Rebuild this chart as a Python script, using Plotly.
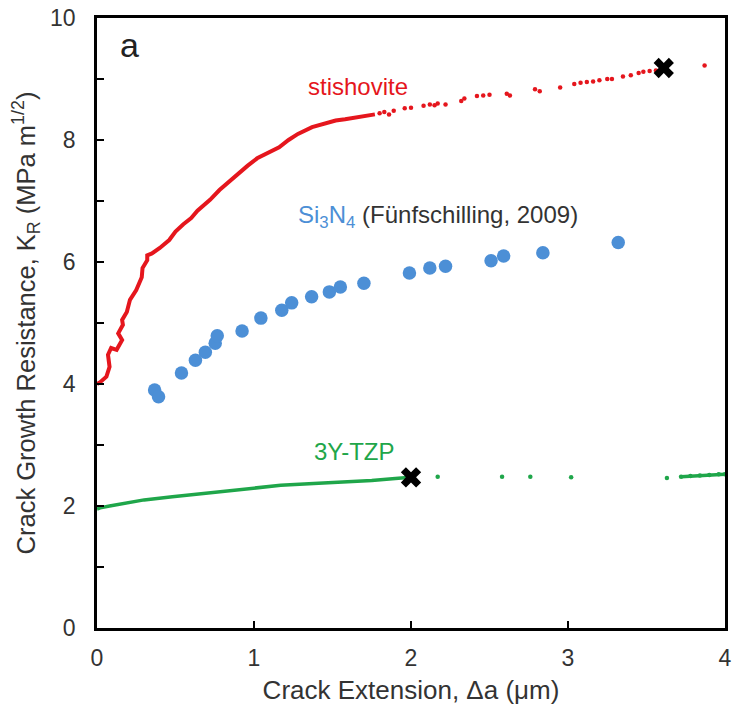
import plotly.graph_objects as go

# Stishovite R-curve: densely sampled part (drawn as a line)
sti_dense_x = [0.00, 0.02, 0.06, 0.08, 0.07, 0.09, 0.125, 0.16, 0.135, 0.165, 0.16, 0.19, 0.21,
               0.25, 0.285, 0.29, 0.32, 0.32, 0.35, 0.40, 0.46, 0.50, 0.55, 0.60, 0.64, 0.67,
               0.72, 0.78, 0.84, 0.90, 0.96, 1.02, 1.08, 1.16, 1.22, 1.28, 1.37, 1.45, 1.52, 1.58,
               1.66, 1.72, 1.77]
sti_dense_y = [4.00, 4.03, 4.12, 4.28, 4.48, 4.59, 4.56, 4.72, 4.83, 4.97, 5.05, 5.18, 5.38,
               5.54, 5.75, 5.90, 6.03, 6.11, 6.14, 6.23, 6.36, 6.50, 6.62, 6.72, 6.84, 6.90,
               7.02, 7.18, 7.32, 7.45, 7.58, 7.70, 7.77, 7.88, 8.00, 8.10, 8.21, 8.27, 8.32, 8.34,
               8.38, 8.40, 8.42]

# Stishovite R-curve: sparse points at larger crack extension
sti_sparse_x = [1.80, 1.83, 1.86, 1.89, 1.96, 2.00, 2.08, 2.12, 2.15, 2.17, 2.22, 2.32, 2.34, 2.42,
                2.46, 2.50, 2.61, 2.63, 2.79, 2.82, 2.95, 3.04, 3.08, 3.12, 3.16, 3.20, 3.25, 3.28,
                3.35, 3.40, 3.45, 3.48, 3.52, 3.56, 3.87]
sti_sparse_y = [8.44, 8.46, 8.42, 8.48, 8.52, 8.53, 8.56, 8.58, 8.57, 8.60, 8.58, 8.64, 8.68, 8.72,
                8.73, 8.74, 8.76, 8.73, 8.83, 8.80, 8.86, 8.92, 8.94, 8.95, 8.96, 8.98, 9.00, 9.00,
                9.04, 9.06, 9.10, 9.12, 9.13, 9.14, 9.22]

# Si3N4 (Fünfschilling, 2009)
si_x = [0.367, 0.392, 0.538, 0.627, 0.69, 0.753, 0.766, 0.924, 1.044, 1.177, 1.24, 1.367, 1.48,
        1.55, 1.70, 1.99, 2.12, 2.22, 2.51, 2.59, 2.84, 3.32]
si_y = [3.90, 3.79, 4.18, 4.39, 4.52, 4.67, 4.79, 4.87, 5.08, 5.21, 5.33, 5.43, 5.51, 5.59, 5.65,
        5.82, 5.90, 5.93, 6.02, 6.10, 6.15, 6.32]

# 3Y-TZP: dense part
tzp_dense_x = [0.00, 0.02, 0.08, 0.16, 0.30, 0.48, 0.62, 0.77, 0.95, 1.17, 1.38, 1.55, 1.75, 1.90, 2.00]
tzp_dense_y = [1.95, 1.97, 2.00, 2.04, 2.10, 2.15, 2.19, 2.23, 2.29, 2.34, 2.37, 2.39, 2.42, 2.45, 2.47]
# 3Y-TZP: sparse points and final segment
tzp_sparse_x = [2.17, 2.58, 2.76, 3.02, 3.63, 3.72, 3.78, 3.84, 3.90, 3.96, 4.00]
tzp_sparse_y = [2.48, 2.48, 2.48, 2.47, 2.46, 2.48, 2.49, 2.50, 2.51, 2.52, 2.52]

# Failure points (crosses)
fail_x = [3.61, 2.00]
fail_y = [9.18, 2.47]

RED = "#E5161D"
BLUE = "#4C8FD6"
GREEN = "#1FA64A"

fig = go.Figure()
fig.add_trace(go.Scatter(x=sti_dense_x, y=sti_dense_y, mode="lines",
                         line=dict(color=RED, width=4)))
fig.add_trace(go.Scatter(x=sti_sparse_x, y=sti_sparse_y, mode="markers",
                         marker=dict(color=RED, size=4.5)))
fig.add_trace(go.Scatter(x=si_x, y=si_y, mode="markers",
                         marker=dict(color=BLUE, size=13.5)))
fig.add_trace(go.Scatter(x=tzp_dense_x, y=tzp_dense_y, mode="lines",
                         line=dict(color=GREEN, width=3.5)))
fig.add_trace(go.Scatter(x=tzp_sparse_x, y=tzp_sparse_y, mode="markers",
                         marker=dict(color=GREEN, size=4.5)))
fig.add_trace(go.Scatter(x=tzp_sparse_x[-6:], y=tzp_sparse_y[-6:], mode="lines",
                         line=dict(color=GREEN, width=3.5)))
fig.add_trace(go.Scatter(x=fail_x, y=fail_y, mode="markers",
                         marker=dict(symbol="x", color="black", size=18,
                                     line=dict(width=0))))

font = "Liberation Sans, Arial, sans-serif"
fig.add_annotation(x=0.21, y=9.56, text="a", showarrow=False,
                   font=dict(size=34, color="#222", family=font))
fig.add_annotation(x=1.66, y=8.87, text="stishovite", showarrow=False,
                   font=dict(size=24, color=RED, family=font))
fig.add_annotation(x=1.27, y=6.75, xanchor="left",
                   text="<span style='color:%s'>Si<sub>3</sub>N<sub>4</sub></span> (Fünfschilling, 2009)" % BLUE,
                   showarrow=False, font=dict(size=24, color="#333", family=font))
fig.add_annotation(x=1.64, y=2.89, text="3Y-TZP", showarrow=False,
                   font=dict(size=24, color=GREEN, family=font))

fig.update_layout(
    width=736, height=715,
    margin=dict(l=97, r=4, t=18, b=87),
    paper_bgcolor="white", plot_bgcolor="white",
    showlegend=False,
    font=dict(family=font, size=23, color="#333"),
    xaxis=dict(range=[0, 4], tick0=0, dtick=1, ticks="inside", ticklen=7, tickwidth=2,
               tickcolor="black", showline=True, linewidth=2.5, linecolor="black", mirror=True,
               showgrid=False, zeroline=False, ticklabelstandoff=8,
               title=dict(text="Crack Extension, \u0394a (\u03bcm)", font=dict(size=26), standoff=11)),
    yaxis=dict(range=[0, 10], tick0=0, dtick=2, ticks="inside", ticklen=7,
               tickwidth=2, tickcolor="black", showline=True, linewidth=2.5, linecolor="black",
               mirror=True, showgrid=False, zeroline=False, ticklabelstandoff=14,
               minor=dict(dtick=1, ticks="inside", ticklen=7, tickwidth=2, tickcolor="black",
                          showgrid=False),
               title=dict(text="Crack Growth Resistance, K<sub>R</sub> (MPa m<sup>1/2</sup>)",
                          font=dict(size=25.5), standoff=8)),
)

fig.write_html("out.html")
